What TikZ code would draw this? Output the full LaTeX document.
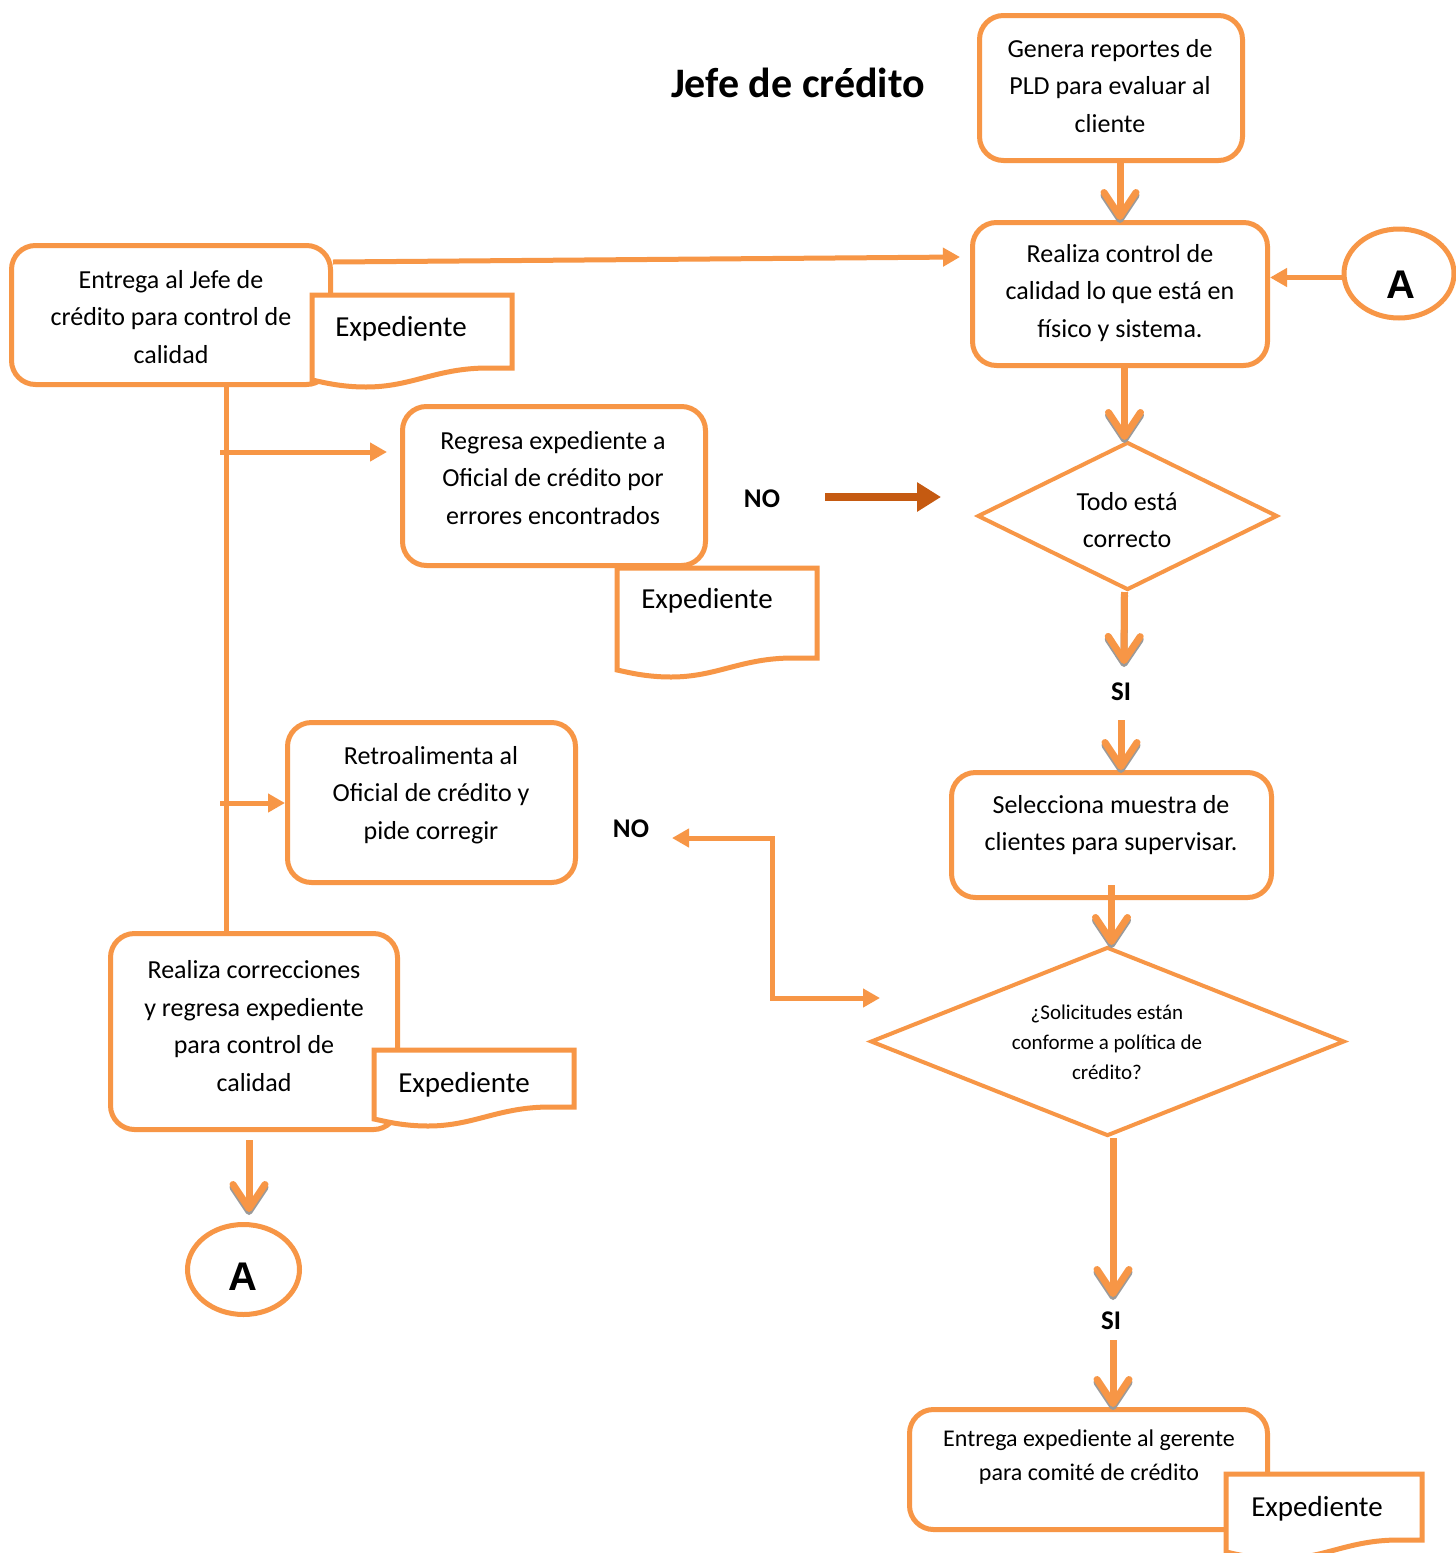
\documentclass[tikz,border=0pt]{standalone}
\usepackage{fontspec}
\setmainfont{Carlito}
\newfontfamily\arialfont{Liberation Sans}
\usetikzlibrary{arrows.meta,shapes.geometric}
\definecolor{flowor}{HTML}{F79646}
\definecolor{flowdark}{HTML}{C55A11}
\definecolor{shadowgr}{HTML}{9A9A9A}

\tikzset{
  box/.style={draw=flowor, line width=5pt, rounded corners=24pt, fill=white, inner sep=0pt},
  decision/.style={draw=flowor, line width=4pt, diamond, inner sep=0pt, aspect=2},
  terminal/.style={draw=flowor, line width=5pt, ellipse, inner sep=0pt},
  txt/.style={align=center, inner sep=0pt, font=\fontsize{26}{37.5}\selectfont},
  smalltxt/.style={align=center, inner sep=0pt, font=\fontsize{21}{30}\selectfont},
  midtxt/.style={align=center, inner sep=0pt, font=\fontsize{24}{34}\selectfont},
  doctxt/.style={inner sep=0pt, font=\fontsize{29}{34}\selectfont},
  tag/.style={inner sep=0pt, font=\fontsize{27}{30}\selectfont\bfseries},
  letter/.style={inner sep=0pt, font=\fontsize{40}{44}\selectfont\arialfont\bfseries},
  tri/.tip={Triangle[length=17pt,width=18pt]},
  barb/.tip={Straight Barb[round,length=24pt,width=32pt]},
  flow/.style={draw=flowor, line width=7pt, -barb},
  flowshade/.style={draw=shadowgr, line width=7pt, -barb},
  link/.style={draw=flowor, line width=5pt, -tri},
  twoway/.style={draw=flowor, line width=5pt, tri-tri},
  plain/.style={draw=flowor, line width=5pt},
  dark/.style={draw=flowdark, line width=8pt, -{Triangle[length=24pt,width=28pt]}},
  docline/.style={draw=flowor, line width=5pt, fill=white, line join=miter},
}

% document symbol: left x, top y, width, height of the right edge
\newcommand\expdoc[4]{%
  \path[docline] (#1,#2) -- ({#1+#3},#2) -- ({#1+#3},{#2+#4}) -- ({#1+0.88*#3},{#2+#4})
    .. controls ({#1+0.62*#3},{#2+#4}) and ({#1+0.5*#3},{#2+#4+19}) .. ({#1+0.27*#3},{#2+#4+19})
    .. controls ({#1+0.14*#3},{#2+#4+19}) and ({#1+0.05*#3},{#2+#4+14}) .. (#1,{#2+#4+12}) -- cycle;}

% thick flow arrow with a soft grey drop shadow under its head
\newcommand\flowarrow[3][]{%
  \begin{scope}[transform canvas={yshift=-3pt}]
    \draw[flowshade,#1] #2 -- #3;
  \end{scope}
  \draw[flow,#1] #2 -- #3;}

\begin{document}
\begin{tikzpicture}[x=1pt, y=-1pt]
\useasboundingbox[fill=white] (0,0) rectangle (1456,1553);

% title
\node[font=\fontsize{42}{50}\selectfont\bfseries, inner sep=0pt] (title) at (798,83) {Jefe de crédito};

% process boxes
\node[box, minimum width=263pt, minimum height=145pt] (gen) at (1111,88) {};
\node[box, minimum width=295pt, minimum height=143pt] (ctrl) at (1120,294) {};
\node[box, minimum width=319pt, minimum height=139pt] (ent) at (171,315) {};
\node[box, minimum width=303pt, minimum height=159pt] (reg) at (554,486) {};
\node[box, minimum width=288pt, minimum height=160pt] (retro) at (431.5,802.5) {};
\node[box, minimum width=287pt, minimum height=196pt] (corr) at (254,1031.5) {};
\node[box, minimum width=320pt, minimum height=125pt] (sel) at (1111.5,835) {};
\node[box, minimum width=358pt, minimum height=120pt] (entexp) at (1088.5,1469.5) {};

% decisions
\node[decision, minimum width=300pt, minimum height=148pt] (todo) at (1127.5,516) {};
\node[decision, minimum width=474pt, minimum height=189pt] (sol) at (1107.5,1041.5) {};

% connectors A
\node[terminal, minimum width=110pt, minimum height=89pt] (aR) at (1399,273.5) {};
\node[terminal, minimum width=112pt, minimum height=90pt] (aL) at (243.5,1269.5) {};
\node[letter] (aR-t) at (1401,285) {A};
\node[letter] (aL-t) at (243,1277) {A};

% texts of the boxes
\node[txt] (gen-t) at (1110,86) {Genera reportes de\\PLD para evaluar al\\cliente};
\node[txt] (ctrl-t) at (1120,293) {Realiza control de\\calidad lo que está en\\físico y sistema.};
\node[txt] (ent-t) at (171,317) {Entrega al Jefe de\\crédito para control de\\calidad};
\node[txt] (reg-t) at (553,478) {Regresa expediente a\\Oficial de crédito por\\errores encontrados};
\node[txt] (todo-t) at (1127,520) {Todo está\\correcto};
\node[txt] (sel-t) at (1111,825) {Selecciona muestra de\\clientes para supervisar.};
\node[smalltxt] (sol-t) at (1107,1042) {¿Solicitudes están\\conforme a política de\\crédito?};
\node[txt] (retro-t) at (431,795) {Retroalimenta al\\Oficial de crédito y\\pide corregir};
\node[txt] (corr-t) at (254,1026) {Realiza correcciones\\y regresa expediente\\para control de\\calidad};
\node[midtxt] (entexp-t) at (1089,1457) {Entrega expediente al gerente\\para comité de crédito};

% documents
\expdoc{312}{295}{200}{73}
\node[doctxt] (exp1) at (401,329) {Expediente};
\expdoc{617}{568}{200}{90}
\node[doctxt] (exp2) at (707,601) {Expediente};
\expdoc{374}{1050}{200}{57}
\node[doctxt] (exp3) at (464,1085) {Expediente};
\expdoc{1226}{1474}{196}{66}
\node[doctxt] (exp4) at (1317,1509) {Expediente};

% labels
\node[tag] (no1) at (762,499) {NO};
\node[tag] (no2) at (631,829) {NO};
\node[tag] (si1) at (1121,692) {SI};
\node[tag] (si2) at (1111,1321) {SI};

% free ends
\coordinate (tk) at (226,452);
\coordinate (tk2) at (226,803);
\coordinate (noA) at (825,497);
\coordinate (noB) at (941,497);
\coordinate (si1top) at (1124,664);
\coordinate (si1bot) at (1121,720);
\coordinate (si2top) at (1113,1297);
\coordinate (si2bot) at (1113,1340);
\coordinate (lpA) at (672,838);
\coordinate (lpC) at (772,998);
\coordinate (lpB) at (880,998);

% connectors
\flowarrow{([xshift=9pt]gen.south)}{([xshift=9pt]gen.south |- ctrl.north)}
\draw[link] ([yshift=-4pt]aR.west) -- ([yshift=-4pt]aR.west -| ctrl.east);
\draw[link] ([yshift=53pt]ent.east) -- ([xshift=-10pt,yshift=37pt]ctrl.west);
\draw[plain] (ent.south -| tk) -- (corr.north -| tk);
\draw[link] ([xshift=-6pt]tk) -- ([xshift=-13pt]tk -| reg.west);
\draw[link] ([xshift=-6pt]tk2) -- (tk2 -| retro.west);
\flowarrow{([xshift=-3pt]ctrl.south -| todo.north)}{([xshift=-3pt]todo.north)}
\draw[dark] (noA) -- (noB);
\flowarrow{([xshift=-3pt]todo.south)}{(si1top)}
\flowarrow{(si1bot)}{(si1bot |- sel.north)}
\flowarrow{([xshift=4pt,yshift=15pt]sel.south -| sol.north)}{([xshift=4pt]sol.north)}
\draw[twoway] (lpA) -| (lpC) -- (lpB);
\flowarrow{([xshift=5.5pt]sol.south)}{(si2top)}
\flowarrow{(si2bot)}{(si2bot |- entexp.north)}
\flowarrow[shorten >=10pt]{([xshift=-5pt,yshift=-8pt]corr.south)}{([xshift=-5pt]corr.south |- aL.north)}
\end{tikzpicture}
\end{document}
